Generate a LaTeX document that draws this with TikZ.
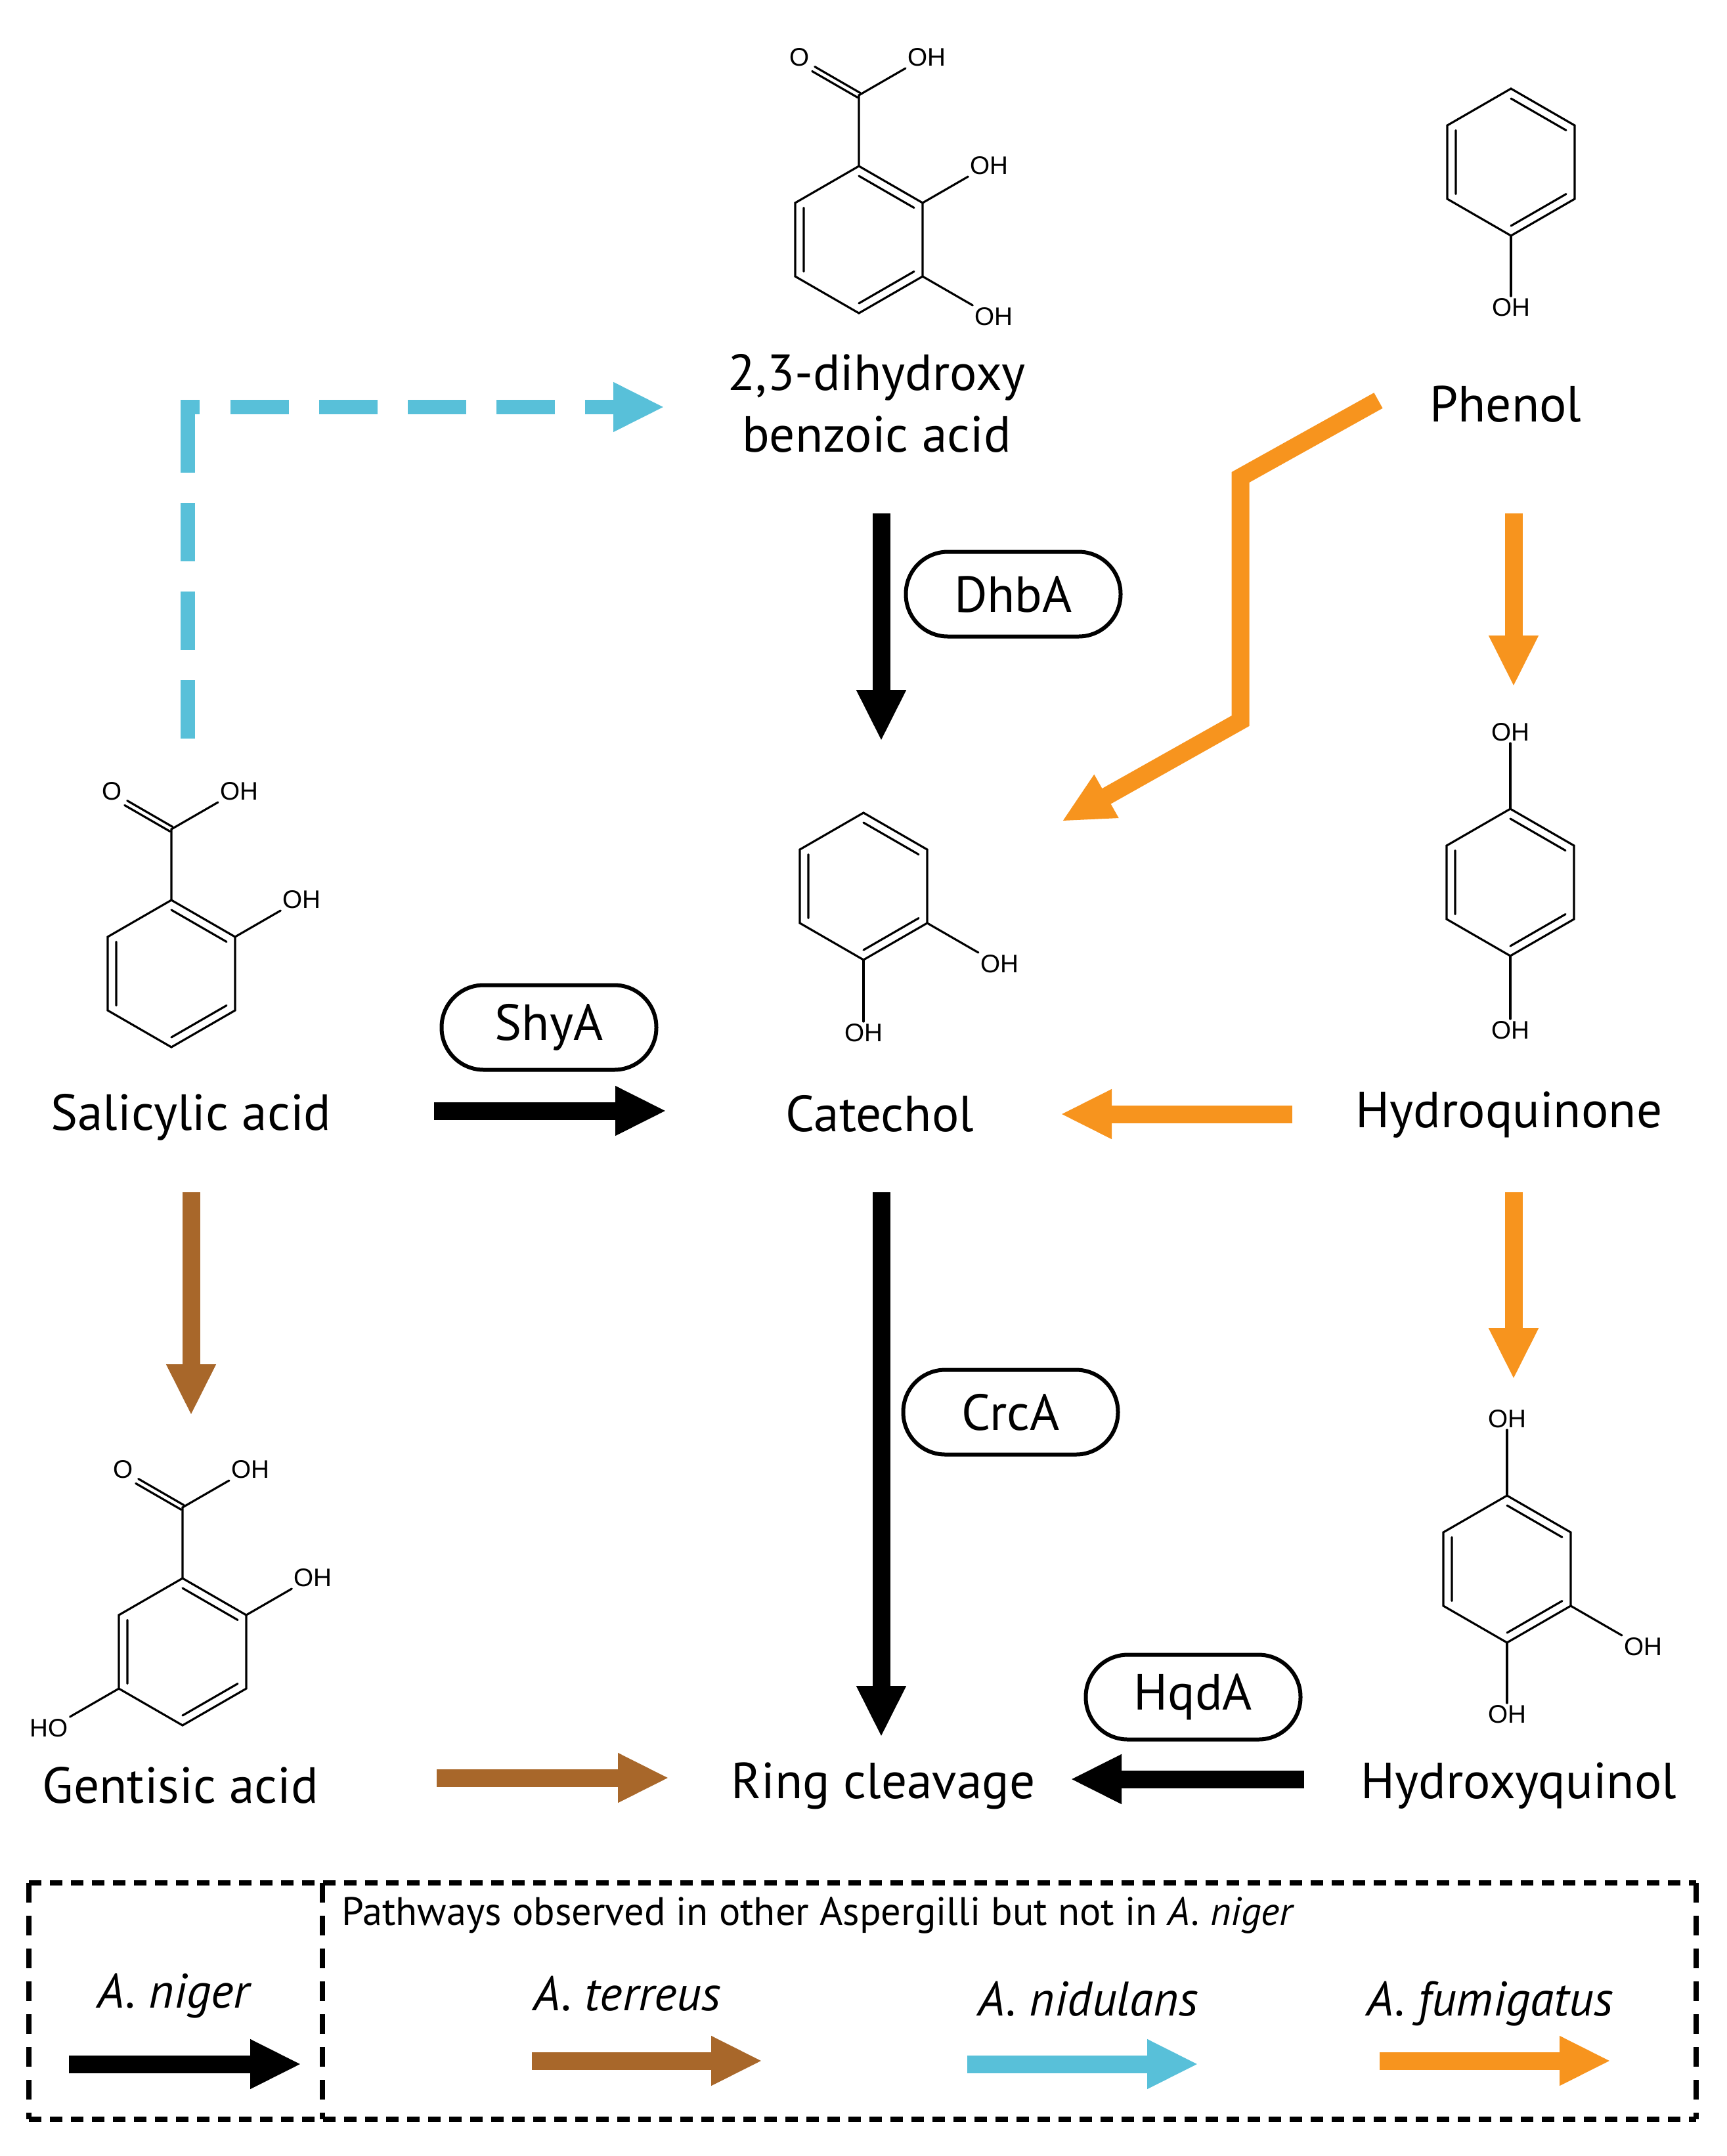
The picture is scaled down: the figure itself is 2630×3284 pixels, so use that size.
\documentclass[tikz,border=0pt]{standalone}
\usepackage{fontspec}
\setmainfont{PT Sans}
\newfontfamily\chemfont{Liberation Sans}
\usetikzlibrary{arrows.meta}
\definecolor{orng}{RGB}{247,148,30}
\definecolor{brwn}{RGB}{168,103,42}
\definecolor{cyanb}{RGB}{88,192,217}
\tikzset{
  bond/.style={line width=0.9pt, line cap=round},
  oh/.style={font=\chemfont\fontsize{11}{13}\selectfont, inner sep=0.15mm},
  mol/.style={font=\fontsize{22}{26.7}\selectfont, inner sep=0, anchor=base, align=center},
  enz/.style={draw, line width=0.6mm, rounded corners=6.4mm, minimum width=32.7mm,
    minimum height=12.9mm, inner sep=0, font=\fontsize{22}{26}\selectfont},
  flow/.style={line width=2.7mm, -{Triangle[width=7mm,length=7.8mm]}},
  lgx/.style={line width=0.8mm, dash pattern=on 1.9mm off 1.3mm},
  lgy/.style={line width=0.8mm, dash pattern=on 3mm off 2mm},
  species/.style={font=\fontsize{21}{25}\selectfont\itshape, inner sep=0, anchor=base},
  benzene/.pic={
    \foreach \a/\v in {-90/t,-30/ur,30/lr,90/b,150/ll,210/ul}
      \coordinate (-\v) at (\a:112);
    \draw[bond] (-90:112) -- (-30:112) -- (30:112) -- (90:112)
      -- (150:112) -- (210:112) -- cycle;
    \draw[bond] (150:97) -- (210:97) (-90:97) -- (-30:97) (30:97) -- (90:97);
  },
  cooh/.pic={
    \draw[bond] (0,0) -- (0,-108) coordinate (-c)
      -- ++(-30:82) node[oh, anchor=south west] (-oh) {OH};
    \draw[bond] (0,-108) ++(120:4) -- ++(210:80)
      (0,-108) ++(300:4) -- ++(210:80);
    \path (0,-108) ++(210:84) node[oh, anchor=south east] (-o) {O};
  }
}
\begin{document}
\begin{tikzpicture}[x=0.1mm, y=-0.1mm]
\useasboundingbox (0,0) rectangle (2630,3284);

% structures
\pic (dhb) at (1308,365) {benzene};
\pic (dhbc) at (dhb-t) {cooh};
\draw[bond] (dhb-ur) -- ++(-30:80) node[oh, anchor=south west] (dhb-oh1) {OH};
\draw[bond] (dhb-lr) -- ++(30:88) node[oh, anchor=north west] (dhb-oh2) {OH};

\pic (phe) at (2301,247) {benzene};
\draw[bond] (phe-b) -- ++(0,92) node[oh, anchor=north] (phe-oh) {OH};

\pic (sal) at (261,1483) {benzene};
\pic (salc) at (sal-t) {cooh};
\draw[bond] (sal-ur) -- ++(-30:80) node[oh, anchor=south west] (sal-oh) {OH};

\pic (cat) at (1315,1350) {benzene};
\draw[bond] (cat-lr) -- ++(30:90) node[oh, anchor=north west] (cat-oh1) {OH};
\draw[bond] (cat-b) -- ++(0,94) node[oh, anchor=north] (cat-oh2) {OH};

\pic (hyq) at (2300,1344) {benzene};
\draw[bond] (hyq-t) -- ++(0,-100) node[oh, anchor=south] (hyq-oh1) {OH};
\draw[bond] (hyq-b) -- ++(0,96) node[oh, anchor=north] (hyq-oh2) {OH};

\pic (gen) at (278,2516) {benzene};
\pic (genc) at (gen-t) {cooh};
\draw[bond] (gen-ur) -- ++(-30:80) node[oh, anchor=south west] (gen-oh1) {OH};
\draw[bond] (gen-ll) -- ++(150:86) node[oh, anchor=north east] (gen-oh2) {HO};

\pic (hxq) at (2295,2390) {benzene};
\draw[bond] (hxq-t) -- ++(0,-100) node[oh, anchor=south] (hxq-oh1) {OH};
\draw[bond] (hxq-lr) -- ++(30:90) node[oh, anchor=north west] (hxq-oh2) {OH};
\draw[bond] (hxq-b) -- ++(0,92) node[oh, anchor=north] (hxq-oh3) {OH};

% names
\node[mol] (dhbn) at (1335,688) {2,3-dihydroxy\\benzoic acid};
\node[mol] (phen) at (2293,642) {Phenol};
\node[mol] (saln) at (291,1721) {Salicylic acid};
\node[mol] (catn) at (1340,1723) {Catechol};
\node[mol] (hyqn) at (2298,1717) {Hydroquinone};
\node[mol] (genn) at (275,2746) {Gentisic acid};
\node[mol] (rcn) at (1345,2739) {Ring cleavage};
\node[mol] (hxqn) at (2313,2739) {Hydroxyquinol};

% enzymes
\node[enz] (dhba) at (1543,905) {DhbA};
\node[enz] (shya) at (836,1565) {ShyA};
\node[enz] (crca) at (1539,2151) {CrcA};
\node[enz] (hqda) at (1817,2585) {HqdA};

% arrow ends
\coordinate (dhb-out) at (1342,782);
\coordinate (cat-top) at (1342,1129);
\coordinate (cat-out) at (1342,1816);
\coordinate (rc-top) at (1342,2646);
\coordinate (sal-out) at (661,1692);
\coordinate (cat-left) at (1015,1692);
\coordinate (hxq-out) at (1986,2710);
\coordinate (rc-right) at (1630,2710);
\coordinate (sal-down) at (291,1816);
\coordinate (gen-top) at (291,2156);
\coordinate (gen-out) at (665,2708);
\coordinate (rc-left) at (1019,2708);
\coordinate (phe-down) at (2305,782);
\coordinate (hyq-top) at (2305,1046);
\coordinate (hyq-down) at (2305,1816);
\coordinate (hxq-top) at (2305,2101);
\coordinate (hyq-out) at (1968,1697);
\coordinate (cat-right) at (1615,1697);
\coordinate (phe-out) at (2099,610);
\coordinate (k1) at (1889,727);
\coordinate (k2) at (1889,1098);
\coordinate (cat-ne) at (1617,1251);
\coordinate (sal-up) at (286,1125);
\coordinate (dhb-in) at (1012,620);

\draw[flow] (dhb-out) -- (cat-top);
\draw[flow] (cat-out) -- (rc-top);
\draw[flow] (sal-out) -- (cat-left);
\draw[flow] (hxq-out) -- (rc-right);
\draw[flow, brwn] (sal-down) -- (gen-top);
\draw[flow, brwn] (gen-out) -- (rc-left);
\draw[flow, orng] (phe-down) -- (hyq-top);
\draw[flow, orng] (hyq-down) -- (hxq-top);
\draw[flow, orng] (hyq-out) -- (cat-right);
\draw[flow, orng] (phe-out) -- (k1) -- (k2) -- (cat-ne);
\draw[flow, cyanb, line width=2.2mm, dash pattern=on 8.9mm off 4.6mm on 8.9mm off 4.6mm
  on 8.9mm off 4.6mm on 11.8mm off 4.7mm on 8.9mm off 4.6mm on 8.9mm off 4.6mm
  on 8.9mm off 4.6mm on 8.9mm off 4.6mm on 20mm off 0.1mm] (sal-up) |- (dhb-in);

% legend
\draw[lgx] (44,2868) -- (2583,2868) (44,3228) -- (2583,3228);
\draw[lgy] (44,2868) -- (44,3228) (491,2868) -- (491,3228) (2583,2868) -- (2583,3228);
\node[font=\fontsize{17.2}{20}\selectfont, inner sep=0, anchor=base west] (hdr) at (520,2932)
  {Pathways observed in other Aspergilli but not in \textit{A. niger}};
\node[species] (nig) at (264,3058) {A. niger};
\node[species] (ter) at (955,3062) {A. terreus};
\node[species] (nid) at (1657,3070) {A. nidulans};
\node[species] (fum) at (2269,3070) {A. fumigatus};
\coordinate (l1a) at (105,3144); \coordinate (l1b) at (459,3144);
\coordinate (l2a) at (810,3139); \coordinate (l2b) at (1161,3139);
\coordinate (l3a) at (1473,3144); \coordinate (l3b) at (1825,3144);
\coordinate (l4a) at (2101,3139); \coordinate (l4b) at (2453,3139);
\draw[flow] (l1a) -- (l1b);
\draw[flow, brwn] (l2a) -- (l2b);
\draw[flow, cyanb] (l3a) -- (l3b);
\draw[flow, orng] (l4a) -- (l4b);
\end{tikzpicture}
\end{document}
